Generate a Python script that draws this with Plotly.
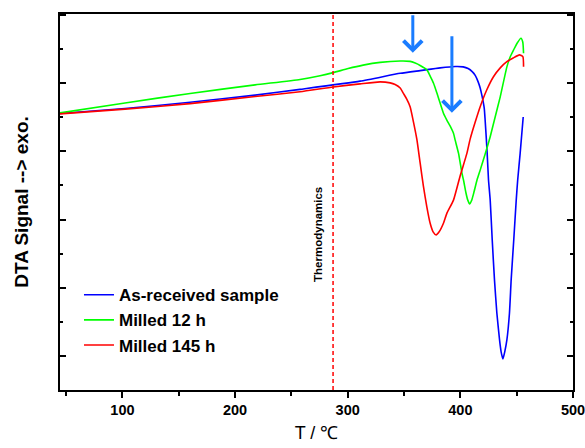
import plotly.graph_objects as go

# ---------------- data ----------------
T_BLUE = [44.6, 102.3, 160.1, 217.8, 257.7, 311.0, 346.6, 364.3, 382.1, 395.4, 402.5, 406.9,
          410.5, 413.2, 415.8, 417.6, 419.4, 421.2, 422.0, 422.9, 423.8, 425.0, 426.5, 428.3,
          430.3, 432.4, 434.8, 436.2, 437.8, 439.4, 441.3, 443.6, 445.1, 447.4, 449.6, 450.9,
          453.1, 455.8]
S_BLUE = [8.11, 8.26, 8.44, 8.65, 8.82, 9.06, 9.29, 9.37, 9.45, 9.49, 9.48, 9.43,
          9.34, 9.23, 9.04, 8.86, 8.60, 8.27, 7.92, 7.45, 6.95, 6.16, 5.57, 4.40,
          3.23, 2.26, 1.47, 1.12, 0.91, 1.12, 1.47, 2.26, 3.23, 4.40, 5.57, 6.16,
          6.95, 8.01]

T_GREEN = [44.6, 102.3, 160.1, 217.8, 257.7, 275.5, 287.1, 300.4, 313.7, 328.8, 346.6, 355.4,
           359.9, 364.3, 370.3, 373.2, 376.2, 379.2, 382.1, 385.0, 388.0, 391.0, 393.9, 395.4,
           398.4, 401.4, 402.8, 405.0, 406.6, 408.2, 410.1, 411.9, 414.8, 417.6, 422.0, 426.5,
           430.9, 435.4, 441.3, 444.2, 447.2, 450.5, 453.8, 455.4, 456.1]
S_GREEN = [8.13, 8.42, 8.70, 8.95, 9.11, 9.22, 9.31, 9.43, 9.53, 9.61, 9.65, 9.64,
           9.59, 9.52, 9.39, 9.21, 9.00, 8.71, 8.41, 8.12, 7.92, 7.74, 7.53, 7.33,
           6.94, 6.36, 6.16, 5.78, 5.57, 5.46, 5.57, 5.78, 6.16, 6.45, 6.92, 7.43,
           8.01, 8.60, 9.48, 9.77, 9.97, 10.18, 10.32, 10.21, 9.88]

T_RED = [44.6, 102.3, 160.1, 217.8, 257.7, 287.1, 311.0, 328.8, 337.7, 342.1, 346.6, 349.5,
         352.3, 355.4, 358.4, 361.4, 364.3, 367.2, 370.2, 373.2, 375.8, 378.5,
         381.2, 385.0, 388.0, 393.9, 399.8, 405.8, 408.7, 413.2, 417.6, 423.4, 429.4, 435.4,
         441.3, 446.9, 452.5, 455.5, 456.1]
S_RED = [8.10, 8.24, 8.40, 8.61, 8.75, 8.89, 8.98, 9.04, 9.01, 8.96, 8.86, 8.70,
         8.54, 8.31, 7.86, 7.35, 6.66, 5.98, 5.38, 4.89, 4.64, 4.55,
         4.64, 4.89, 5.18, 5.57, 6.28, 6.94, 7.36, 7.86, 8.31, 8.80, 9.19, 9.45,
         9.63, 9.74, 9.83, 9.78, 9.48]

SERIES_NAMES = ["As-received sample", "Milled 12 h", "Milled 145 h"]
SERIES_COLORS = ["#0000ff", "#00ff00", "#ff0000"]

THERMO_T = 287.0          # dashed marker temperature
THERMO_LABEL = "Thermodynamics"
ARROW_T = [357.8, 392.5]  # blue arrow tips (T)
ARROW_S = [9.89, 8.13]    # blue arrow tips (signal)

X_RANGE = [44.6, 500]
Y_RANGE = [0, 11.03]
X_TICKS = [100, 200, 300, 400, 500]

FONT = "Liberation Sans, Arial, sans-serif"

# ---------------- figure ----------------
fig = go.Figure()
for t, s, name, col in zip([T_BLUE, T_GREEN, T_RED], [S_BLUE, S_GREEN, S_RED],
                           SERIES_NAMES, SERIES_COLORS):
    fig.add_trace(go.Scatter(x=t, y=s, mode="lines", name=name,
                             line=dict(color=col, width=1.6, shape="spline", smoothing=0.5)))

fig.add_vline(x=THERMO_T, line=dict(color="#ff0000", width=1.5, dash="4px,3px"))

fig.add_annotation(x=THERMO_T, y=4.55, xshift=-15, text=THERMO_LABEL, textangle=-90,
                   showarrow=False, font=dict(family=FONT, size=11.5, color="black", weight="bold"))

for at, as_, ay in zip(ARROW_T, ARROW_S, [-39, -78]):
    fig.add_annotation(x=at, y=as_, ax=0, ay=ay, text="", showarrow=True,
                       arrowhead=4, arrowsize=1.2, arrowwidth=3, arrowcolor="#1a7cff")

axis_common = dict(showline=True, linecolor="black", linewidth=1.5, showgrid=False,
                   zeroline=False, automargin=False)

fig.update_layout(
    width=585, height=448,
    margin=dict(l=60, r=12, t=14, b=58),
    paper_bgcolor="white", plot_bgcolor="white",
    font=dict(family=FONT, color="black"),
    xaxis=dict(**axis_common, range=X_RANGE, mirror=True,
               tickmode="array", tickvals=X_TICKS, ticklabeloverflow="allow",
               ticks="outside", ticklen=6, tickwidth=1.5, tickcolor="black",
               minor=dict(dtick=50, tick0=0, ticks="outside", ticklen=4, tickwidth=1.5,
                          tickcolor="black"),
               tickfont=dict(family=FONT, size=14.5, weight="bold"),
               title=dict(text="T / ℃", font=dict(family=FONT, size=18), standoff=9)),
    xaxis2=dict(range=X_RANGE, overlaying="x", side="top", anchor="y", automargin=False,
                showline=False, showgrid=False, zeroline=False, showticklabels=False,
                dtick=50, tick0=0, ticks="inside", ticklen=6, tickwidth=1.5,
                tickcolor="black"),
    yaxis=dict(**axis_common, range=Y_RANGE, mirror="ticks",
               tick0=1, dtick=2, ticks="inside", ticklen=6, tickwidth=1.5,
               tickcolor="black", showticklabels=False,
               minor=dict(dtick=1, tick0=0, ticks="inside", ticklen=3, tickwidth=1.5,
                          tickcolor="black"),
               title=dict(text="DTA Signal --> exo.",
                          font=dict(family=FONT, size=19, weight="bold"), standoff=25)),
    legend=dict(x=0.037, y=0.3, xanchor="left", yanchor="top",
                bgcolor="rgba(0,0,0,0)", borderwidth=0,
                font=dict(family=FONT, size=17, weight="bold"), itemwidth=30),
    showlegend=True,
)

fig.write_html("out.html", config={"displayModeBar": False},
               post_script="document.body.style.margin='0px';"
                           "document.body.style.overflow='hidden';")
